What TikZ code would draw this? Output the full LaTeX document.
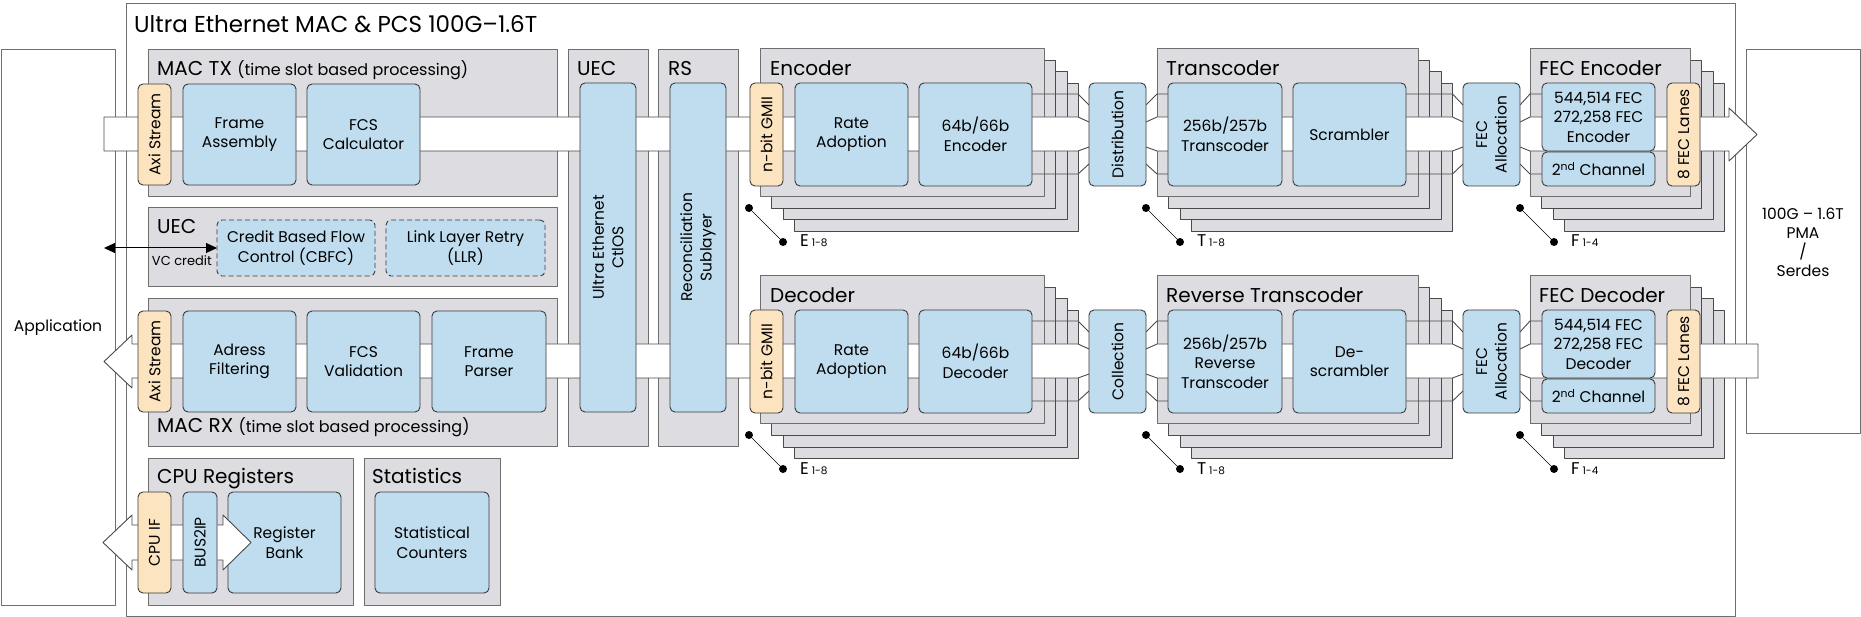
\documentclass[tikz,border=0pt]{standalone}
\usepackage{fontspec}
\setmainfont{Poppins}
\usetikzlibrary{arrows.meta}
\definecolor{cgray}{HTML}{DCDCE1}
\definecolor{cblue}{HTML}{BFDDEE}
\definecolor{corange}{HTML}{FDE4C0}
\definecolor{cline}{HTML}{3A3A3A}
\definecolor{cgline}{HTML}{6E6E6E}
\definecolor{cdark}{HTML}{4A4A4A}
\tikzset{
 nw/.style={inner sep=0pt, outer sep=0pt, anchor=north west},
 plainbox/.style={nw, draw=cgline, fill=white, line width=1pt},
 cont/.style={nw, draw=cgline, fill=cgray, line width=1pt},
 backcont/.style={cont, draw=cdark},
 blk/.style={nw, draw=cline, fill=cblue, rounded corners=5pt, line width=0.9pt, align=center, font=\fontsize{15.5}{19.5}\selectfont},
 oblk/.style={blk, fill=corange},
 rblk/.style={blk, anchor=center, rotate=90},
 roblk/.style={rblk, fill=corange},
 dblk/.style={blk, dash pattern=on 5pt off 3pt},
 hdr/.style={anchor=base west, inner sep=0pt, font=\fontsize{20}{24}\selectfont},
 txt/.style={inner sep=0pt, align=center, font=\fontsize{15.5}{19}\selectfont},
 band/.style={fill=white, draw=cdark, line width=0.9pt},
 chan/.style={draw=cdark, line width=0.9pt},
 dotn/.style={circle, fill=black, inner sep=0pt, minimum size=8pt},
 lbl/.style={anchor=base west, inner sep=0pt, font=\fontsize{17}{20}\selectfont},
}
\newcommand\pcsstack[5]{%
  \foreach \k in {3,2,1}{\node[backcont, minimum width=#4, minimum height=#5] (#1\k) at ({#2+11.5*\k},{#3+11.5*\k}) {};}%
  \node[cont, minimum width=#4, minimum height=#5] (#1) at (#2,#3) {};}
\newcommand\lanelabel[5]{%
  \node[dotn] (#1a) at (#2,#3) {};
  \node[dotn] (#1b) at ({#2+34},{#3+34}) {};
  \draw[line width=0.6pt] (#1a) -- (#1b);
  \node[lbl] (#1t) at ({#2+51},{#3+39}) {#4\,{\fontsize{10.5}{12}\selectfont #5}};}
\begin{document}
\begin{tikzpicture}[x=1pt,y=-1pt,line join=round]
\useasboundingbox (0,0) rectangle (1861,617);
% ---------- outer boxes
\node[plainbox, minimum width=114, minimum height=555] (app) at (1,50) {};
\node[txt] (apptext) at (app.center) {Application};
\node[plainbox, minimum width=114, minimum height=384] (pma) at (1746,50) {};
\node[txt] (pmatext) at (pma.center) {100G – 1.6T\\PMA\\/\\Serdes};
\node[plainbox, minimum width=1609, minimum height=612] (outer) at (126,4) {};
\node[anchor=base west, inner sep=0pt, font=\fontsize{23}{26}\selectfont] (title) at (134,33) {Ultra Ethernet MAC \& PCS 100G–1.6T};
% ---------- containers
\node[cont, minimum width=409, minimum height=147] (mactx) at (148,50) {};
\node[cont, minimum width=409, minimum height=79] (uecs) at (148,208) {};
\node[cont, minimum width=409, minimum height=147] (macrx) at (148,299) {};
\node[cont, minimum width=205, minimum height=147] (cpur) at (148,458) {};
\node[cont, minimum width=136, minimum height=147] (stats) at (364,458) {};
\node[cont, minimum width=80, minimum height=396] (ueccol) at (568,50) {};
\node[cont, minimum width=80, minimum height=396] (rscol) at (658,50) {};
\pcsstack{encs}{760}{49}{284}{148}
\pcsstack{tcs}{1157}{49}{261}{148}
\pcsstack{fecs}{1530}{49}{160}{148}
\begin{scope}[yshift=-227pt]
\pcsstack{decs}{760}{49}{284}{148}
\pcsstack{rtcs}{1157}{49}{261}{148}
\pcsstack{fecds}{1530}{49}{160}{148}
\end{scope}
% ---------- headers
\node[hdr] (mactxh) at (157,76) {MAC TX {\fontsize{16}{19}\selectfont(time slot based processing)}};
\node[hdr] (uecsh) at (157,234) {UEC};
\node[hdr] (macrxh) at (157,432) {MAC RX {\fontsize{16}{19}\selectfont(time slot based processing)}};
\node[hdr] (cpurh) at (157,483) {CPU Registers};
\node[hdr] (statsh) at (372,483) {Statistics};
\node[hdr] (ueccolh) at (577,76) {UEC};
\node[hdr] (rscolh) at (668,76) {RS};
\node[hdr] (enchdr) at (770,76) {Encoder};
\node[hdr] (tchdr) at (1166,76) {Transcoder};
\node[hdr] (fechdr) at (1539,76) {FEC Encoder};
\begin{scope}[yshift=-227pt]
\node[hdr] (dechdr) at (770,76) {Decoder};
\node[hdr] (rtchdr) at (1166,76) {Reverse Transcoder};
\node[hdr] (fecdhdr) at (1539,76) {FEC Decoder};
\end{scope}
% ---------- data bands
\filldraw[band] (104,117) -- (1078,117) -- (1089,122) -- (1146,122) -- (1157,117) -- (1452.5,117) -- (1463,122) -- (1520,122) -- (1530,117) -- (1729,117) -- (1729,108) -- (1757,134.5) -- (1729,161) -- (1729,151) -- (1530,151) -- (1520,147) -- (1463,147) -- (1452.5,151) -- (1157,151) -- (1146,147) -- (1089,147) -- (1078,151) -- (104,151) -- cycle;
\begin{scope}[yshift=-227pt]
\filldraw[band] (104,134.5) -- (132,108) -- (132,117) -- (1078,117) -- (1089,122) -- (1146,122) -- (1157,117) -- (1452.5,117) -- (1463,122) -- (1520,122) -- (1530,117) -- (1758,117) -- (1758,151) -- (1530,151) -- (1520,147) -- (1463,147) -- (1452.5,151) -- (1157,151) -- (1146,147) -- (1089,147) -- (1078,151) -- (132,151) -- (132,161) -- cycle;
\end{scope}
\filldraw[band] (103,542.5) -- (132,515) -- (132,525) -- (217,525) -- (217,560) -- (132,560) -- (132,570) -- cycle;
% ---------- MAC blocks
\node[roblk, minimum width=101, minimum height=33] (axitx) at (154.5,134.5) {Axi Stream};
\node[blk, minimum width=113, minimum height=101] (fa) at (183,84) {Frame\\Assembly};
\node[blk, minimum width=113, minimum height=101] (fcsc) at (307,84) {FCS\\Calculator};
\node[dblk, minimum width=158, minimum height=56] (cbfc) at (217,220) {Credit Based Flow\\Control (CBFC)};
\node[dblk, minimum width=159, minimum height=56] (llr) at (386,220) {Link Layer Retry\\(LLR)};
\node[roblk, minimum width=101, minimum height=33] (axirx) at (154.5,361.5) {Axi Stream};
\node[blk, minimum width=113, minimum height=101] (af) at (183,311) {Adress\\Filtering};
\node[blk, minimum width=113, minimum height=101] (fcsv) at (307,311) {FCS\\Validation};
\node[blk, minimum width=114, minimum height=101] (fp) at (432,311) {Frame\\Parser};
\node[roblk, minimum width=101, minimum height=33] (cpuif) at (154.5,542.5) {CPU IF};
\node[rblk, minimum width=101, minimum height=34] (bus2ip) at (200,542.5) {BUS2IP};
\node[blk, minimum width=113, minimum height=101] (rb) at (228,492) {Register\\Bank};
\node[blk, minimum width=114, minimum height=101] (sc) at (375,492) {Statistical\\Counters};
\node[rblk, minimum width=329, minimum height=56] (ctl) at (608,247.5) {Ultra Ethernet\\CtlOS};
\node[rblk, minimum width=329, minimum height=56] (rsl) at (698,247.5) {Reconciliation\\Sublayer};
% ---------- TX PCS lane
\draw[chan] (1032,94) -- (1078,94) -- (1089,105);
\draw[chan] (1032,174) -- (1078,174) -- (1089,164);
\draw[chan] (1146,105) -- (1157,94) -- (1168,94);
\draw[chan] (1146,164) -- (1157,174) -- (1168,174);
\draw[chan] (1406,94) -- (1452.5,94) -- (1463,105);
\draw[chan] (1406,174) -- (1452.5,174) -- (1463,164);
\draw[chan] (1520,105) -- (1530,94) -- (1542,94);
\draw[chan] (1520,164) -- (1530,174) -- (1542,174);
\node[roblk, minimum width=103, minimum height=33] (gmiitx) at (766.5,134.5) {n-bit GMII};
\node[blk, minimum width=113, minimum height=103] (ratx) at (795,83) {Rate\\Adoption};
\node[blk, minimum width=113, minimum height=103] (enctx) at (919,83) {64b/66b\\Encoder};
\node[rblk, minimum width=103, minimum height=57] (dist) at (1117.5,134.5) {Distribution};
\node[blk, minimum width=114, minimum height=103] (tctx) at (1168,83) {256b/257b\\Transcoder};
\node[blk, minimum width=113, minimum height=103] (scr) at (1293,83) {Scrambler};
\node[rblk, minimum width=103, minimum height=57] (fecatx) at (1491.5,134.5) {FEC\\Allocation};
\node[blk, minimum width=113, minimum height=68] (fecenc) at (1542,83) {544,514 FEC\\272,258 FEC\\Encoder};
\node[blk, minimum width=113, minimum height=34] (ch2tx) at (1542,152) {2\textsuperscript{nd} Channel};
\node[roblk, minimum width=103, minimum height=33] (lanestx) at (1683.5,134.5) {8 FEC Lanes};
\lanelabel{le}{749}{208}{E}{1-8}
\lanelabel{lt}{1146}{208}{T}{1-8}
\lanelabel{lf}{1520}{208}{F}{1-4}
% ---------- RX PCS lane
\begin{scope}[yshift=-227pt]
\draw[chan] (1032,94) -- (1078,94) -- (1089,105);
\draw[chan] (1032,174) -- (1078,174) -- (1089,164);
\draw[chan] (1146,105) -- (1157,94) -- (1168,94);
\draw[chan] (1146,164) -- (1157,174) -- (1168,174);
\draw[chan] (1406,94) -- (1452.5,94) -- (1463,105);
\draw[chan] (1406,174) -- (1452.5,174) -- (1463,164);
\draw[chan] (1520,105) -- (1530,94) -- (1542,94);
\draw[chan] (1520,164) -- (1530,174) -- (1542,174);
\node[roblk, minimum width=103, minimum height=33] (gmiirx) at (766.5,134.5) {n-bit GMII};
\node[blk, minimum width=113, minimum height=103] (rarx) at (795,83) {Rate\\Adoption};
\node[blk, minimum width=113, minimum height=103] (decrx) at (919,83) {64b/66b\\Decoder};
\node[rblk, minimum width=103, minimum height=57] (coll) at (1117.5,134.5) {Collection};
\node[blk, minimum width=114, minimum height=103] (rtcrx) at (1168,83) {256b/257b\\Reverse\\Transcoder};
\node[blk, minimum width=113, minimum height=103] (dscr) at (1293,83) {De-\\scrambler};
\node[rblk, minimum width=103, minimum height=57] (fecarx) at (1491.5,134.5) {FEC\\Allocation};
\node[blk, minimum width=113, minimum height=68] (fecdec) at (1542,83) {544,514 FEC\\272,258 FEC\\Decoder};
\node[blk, minimum width=113, minimum height=34] (ch2rx) at (1542,152) {2\textsuperscript{nd} Channel};
\node[roblk, minimum width=103, minimum height=33] (lanesrx) at (1683.5,134.5) {8 FEC Lanes};
\lanelabel{re}{749}{208}{E}{1-8}
\lanelabel{rt}{1146}{208}{T}{1-8}
\lanelabel{rf}{1520}{208}{F}{1-4}
\end{scope}
% ---------- CPU arrow head over register bank
\fill[white] (217.6,525) -- (223,525) -- (223,515) -- (251,542.5) -- (223,570) -- (223,560) -- (217.6,560) -- cycle;
\draw[chan] (217.6,525) -- (223,525) -- (223,515) -- (251,542.5) -- (223,570) -- (223,560) -- (217.6,560);
% ---------- VC credit
\coordinate (vcl) at (104,248);
\draw[{Triangle[length=11pt,width=10pt]}-{Triangle[length=11pt,width=10pt]}, line width=1pt] (vcl) -- (cbfc.west);
\node[anchor=base east, inner sep=0pt, font=\fontsize{13}{15}\selectfont] (vctext) at (212,266) {VC credit};
\end{tikzpicture}
\end{document}
